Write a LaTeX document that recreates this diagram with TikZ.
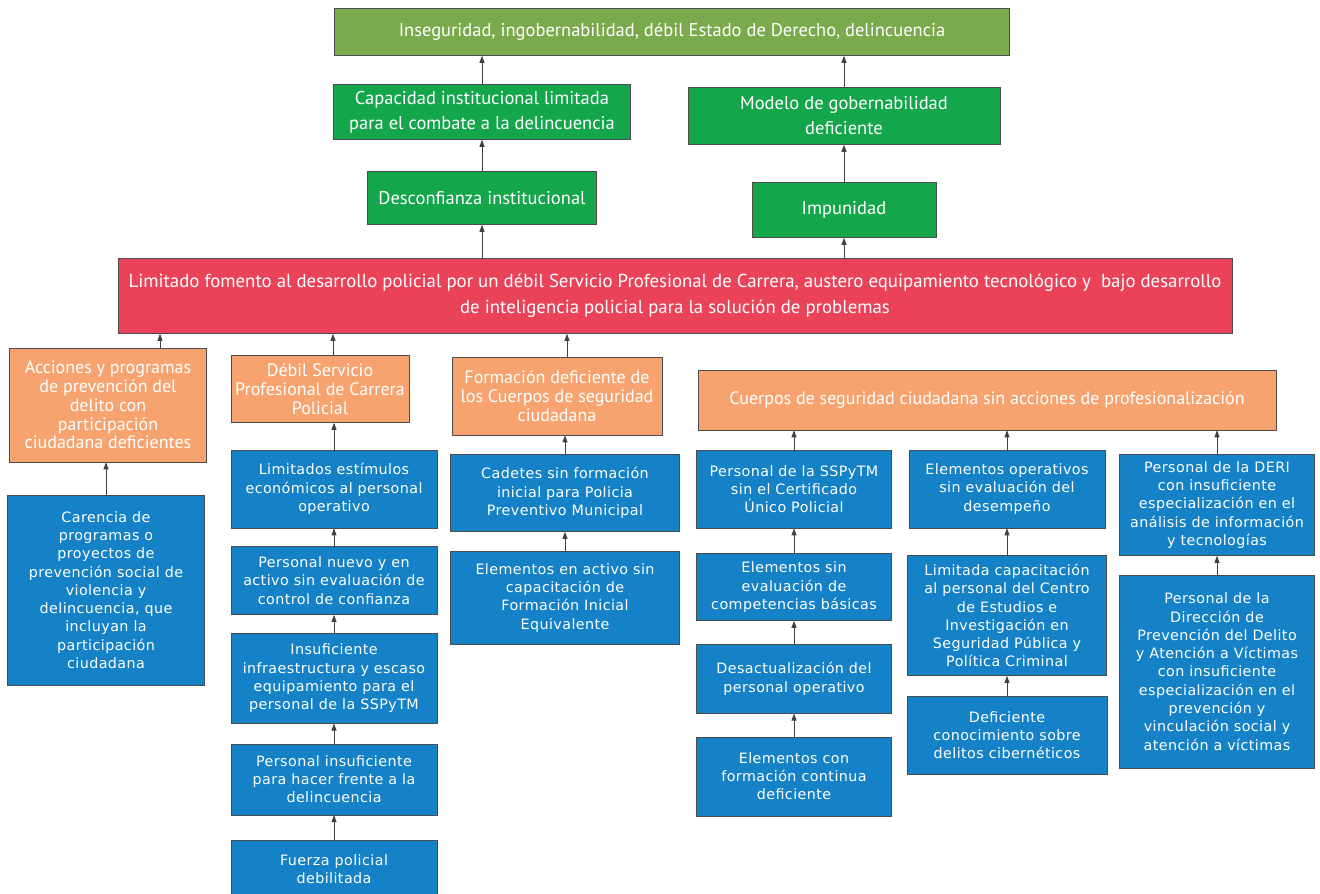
\documentclass[tikz,border=0pt]{standalone}
\usepackage{fontspec}
\setmainfont{PT Sans}
\newfontfamily\bluefont[LetterSpace=3]{DejaVu Sans}
\usepackage{tikz}
\usetikzlibrary{arrows.meta,positioning}

\definecolor{topgreen}{HTML}{7BAA4C}
\definecolor{midgreen}{HTML}{14A64B}
\definecolor{causered}{HTML}{EA4359}
\definecolor{orangecell}{HTML}{F7A36F}
\definecolor{bluecell}{HTML}{1581C6}

\tikzset{
  cell/.style={rectangle, draw=black!70, line width=0.6pt, text=white, align=center, inner sep=0pt},
  effect/.style={cell, font=\fontsize{18.5}{25}\selectfont},
  topcell/.style={effect, fill=topgreen},
  greencell/.style={effect, fill=midgreen},
  redcell/.style={cell, fill=causered, font=\fontsize{18.8}{26}\selectfont},
  cause/.style={cell, fill=orangecell, font=\fontsize{18}{18.8}\selectfont},
  root/.style={cell, fill=bluecell, font=\bluefont\fontsize{14.3}{18.3}\selectfont},
  arr/.style={-{Triangle[length=7pt,width=5pt]}, draw=black!75, line width=0.7pt}
}

\begin{document}
\begin{tikzpicture}[x=1pt, y=-1pt]
\useasboundingbox (0,0) rectangle (1320,894);
\fill[white] (0,0) rectangle (1320,894);

\node[topcell, minimum width=675, minimum height=47] (top) at (672,32) {Inseguridad, ingobernabilidad, débil Estado de Derecho, delincuencia};
\node[greencell, minimum width=297, minimum height=55] (cap) at (482,112) {Capacidad institucional limitada\\para el combate a la delincuencia};
\node[greencell, minimum width=312, minimum height=57] (mod) at (844,116) {Modelo de gobernabilidad\\deficiente};
\node[greencell, minimum width=229, minimum height=53] (des) at (482,198) {Desconfianza institucional};
\node[greencell, minimum width=184, minimum height=55] (imp) at (844,210) {Impunidad};

\node[redcell, minimum width=1114, minimum height=75] (red) at (675,296) {Limitado fomento al desarrollo policial por un débil Servicio Profesional de Carrera, austero equipamiento tecnológico y \ bajo desarrollo\\de inteligencia policial para la solución de problemas};

\node[cause, minimum width=197, minimum height=114] (acc) at (108,405) {Acciones y programas\\de prevención del\\delito con\\participación\\ciudadana deficientes};
\node[cause, minimum width=178, minimum height=67] (deb) at (320,389) {Débil Servicio\\Profesional de Carrera\\Policial};
\node[cause, minimum width=210, minimum height=78] (for) at (557,396) {Formación deficiente de\\los Cuerpos de seguridad\\ciudadana};
\node[cause, minimum width=578, minimum height=60] (cue) at (987,400) {Cuerpos de seguridad ciudadana sin acciones de profesionalización};

\node[root, minimum width=197, minimum height=190] (car) at (106,590) {Carencia de\\programas o\\proyectos de\\prevención social de\\violencia y\\delincuencia, que\\incluyan la\\participación\\ciudadana};

\node[root, minimum width=206, minimum height=78] (lim) at (334,489) {Limitados estímulos\\económicos al personal\\operativo};
\node[root, minimum width=206, minimum height=68, below=18pt of lim] (nue) {Personal nuevo y en\\activo sin evaluación de\\control de confianza};
\node[root, minimum width=206, minimum height=90, below=18pt of nue] (inf) {Insuficiente\\infraestructura y escaso\\equipamiento para el\\personal de la SSPyTM};
\node[root, minimum width=206, minimum height=71, below=20pt of inf] (pin) {Personal insuficiente\\para hacer frente a la\\delincuencia};
\node[root, minimum width=206, minimum height=58, below=25pt of pin] (fue) {Fuerza policial\\debilitada};

\node[root, minimum width=229, minimum height=77] (cad) at (565,493) {Cadetes sin formación\\inicial para Policia\\Preventivo Municipal};
\node[root, minimum width=229, minimum height=93, below=19pt of cad] (ele) {Elementos en activo sin\\capacitación de\\Formación Inicial\\Equivalente};

\node[root, minimum width=195, minimum height=78] (ssp) at (794,489) {Personal de la SSPyTM\\sin el Certificado\\Único Policial};
\node[root, minimum width=195, minimum height=67, below=25pt of ssp] (sev) {Elementos sin\\evaluación de\\competencias básicas};
\node[root, minimum width=195, minimum height=69, below=23pt of sev] (dac) {Desactualización del\\personal operativo};
\node[root, minimum width=195, minimum height=79, below=23pt of dac] (efc) {Elementos con\\formación continua\\deficiente};

\node[root, minimum width=196, minimum height=78] (eop) at (1007,489) {Elementos operativos\\sin evaluación del\\desempeño};
\node[root, minimum width=199, minimum height=120, below=27pt of eop] (lca) {Limitada capacitación\\al personal del Centro\\de Estudios e\\Investigación en\\Seguridad Pública y\\Política Criminal};
\node[root, minimum width=200, minimum height=78, below=20pt of lca] (dco) {Deficiente\\conocimiento sobre\\delitos cibernéticos};

\node[root, minimum width=195, minimum height=101] (der) at (1217,505) {Personal de la DERI\\con insuficiente\\especialización en el\\análisis de información\\y tecnologías};
\node[root, minimum width=195, minimum height=193, below=19pt of der] (dir) {Personal de la\\Dirección de\\Prevención del Delito\\y Atención a Víctimas\\con insuficiente\\especialización en el\\prevención y\\vinculación social y\\atención a víctimas};

\draw[arr] (cap.north) -- (cap.north |- top.south);
\draw[arr] (mod.north) -- (mod.north |- top.south);
\draw[arr] (des) -- (cap); \draw[arr] (imp) -- (mod);
\draw[arr] (des.south |- red.north) -- (des.south);
\draw[arr] (imp.south |- red.north) -- (imp.south);
\draw[arr] ([xshift=52]acc.north) -- ([xshift=52]acc.north |- red.south);
\draw[arr] ([xshift=13]deb.north) -- ([xshift=13]deb.north |- red.south);
\draw[arr] ([xshift=10]for.north) -- ([xshift=10]for.north |- red.south);
\draw[arr] (car.north) -- (car.north |- acc.south);
\draw[arr] (lim.north) -- (lim.north |- deb.south);
\draw[arr] (nue) -- (lim); \draw[arr] (inf) -- (nue); \draw[arr] (pin) -- (inf); \draw[arr] (fue) -- (pin);
\draw[arr] (cad.north) -- (cad.north |- for.south);
\draw[arr] (ele) -- (cad);
\draw[arr] (ssp.north) -- (ssp.north |- cue.south);
\draw[arr] (eop.north) -- (eop.north |- cue.south);
\draw[arr] (der.north) -- (der.north |- cue.south);
\draw[arr] (sev) -- (ssp); \draw[arr] (dac) -- (sev); \draw[arr] (efc) -- (dac);
\draw[arr] (lca) -- (eop); \draw[arr] (dco) -- (lca);
\draw[arr] (dir) -- (der);
\end{tikzpicture}
\end{document}
